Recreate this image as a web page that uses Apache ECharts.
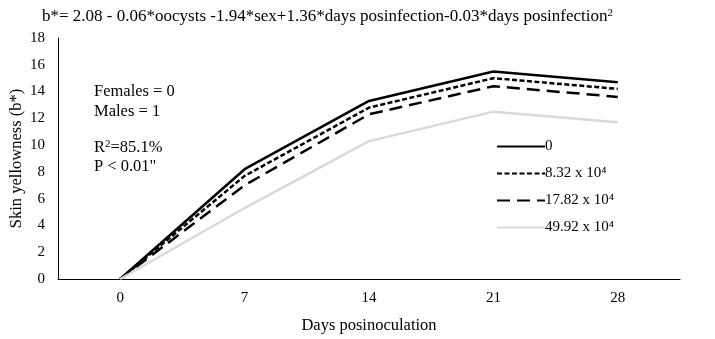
<!DOCTYPE html>
<html>
<head>
<meta charset="utf-8">
<script src="https://cdn.jsdelivr.net/npm/echarts@6/dist/echarts.min.js"></script>
<style>
  html, body { margin: 0; padding: 0; background: #fff; }
  #chart { width: 715px; height: 339px; }
</style>
</head>
<body>
<div id="chart"></div>
<script>
// days posinoculation
const days = ['0', '7', '14', '21', '28']
// oocyst doses (legend labels)
const doseNames = ['0', '8.32 x 10⁴', '17.82 x 10⁴', '49.92 x 10⁴']
// skin yellowness b*
const dose0 = [0, 8.2, 13.3, 15.5, 14.7]
const dose832 = [0, 7.7, 12.8, 15.0, 14.2]
const dose1782 = [0, 7.0, 12.3, 14.4, 13.6]
const dose4992 = [0, 5.3, 10.3, 12.5, 11.7]
const yTicks = [0, 2, 4, 6, 8, 10, 12, 14, 16, 18]

const font = 'Liberation Serif, Times New Roman, serif'
const chart = echarts.init(document.getElementById('chart'))

const mkLine = (name, data, color, type) => ({
  name,
  type: 'line',
  data,
  symbol: 'none',
  silent: true,
  lineStyle: { color, width: 2.5, type },
  itemStyle: { color }
})

const sup = { fontSize: 11, verticalAlign: 'top', padding: [0, 0, 7, 0], fontFamily: font }

chart.setOption({
  animation: false,
  textStyle: { fontFamily: font, color: '#000' },
  grid: { left: 58, right: 35, top: 38, bottom: 60, outerBoundsMode: 'none' },
  xAxis: {
    type: 'category',
    data: days,
    boundaryGap: true,
    axisLine: { lineStyle: { color: '#000', width: 1 } },
    axisTick: { show: false },
    axisLabel: { color: '#000', fontSize: 15, fontFamily: font, margin: 12 },
    name: 'Days posinoculation',
    nameLocation: 'middle',
    nameGap: 38,
    nameTextStyle: { color: '#000', fontSize: 16.5, fontFamily: font }
  },
  yAxis: {
    type: 'value',
    min: yTicks[0],
    max: yTicks[yTicks.length - 1],
    interval: 2,
    splitLine: { show: false },
    axisLine: { show: true, lineStyle: { color: '#000', width: 1 } },
    axisTick: { show: false },
    axisLabel: { color: '#000', fontSize: 15, fontFamily: font, margin: 13 },
    name: 'Skin yellowness (b*)',
    nameLocation: 'middle',
    nameGap: 33,
    nameMoveOverlap: false,
    nameRotate: 90,
    nameTextStyle: { color: '#000', fontSize: 16.5, fontFamily: font }
  },
  legend: {
    orient: 'vertical',
    left: 491,
    top: 134,
    itemWidth: 48,
    itemHeight: 12,
    itemGap: 12,
    selectedMode: false,
    data: doseNames,
    itemStyle: { opacity: 0 },
    textStyle: { color: '#000', fontSize: 15, fontFamily: font, padding: [0, 0, 0, -5] }
  },
  graphic: [
    {
      type: 'text', left: 42, top: 8,
      style: {
        text: 'b*= 2.08 - 0.06*oocysts -1.94*sex+1.36*days posinfection-0.03*days posinfection{s|2}',
        font: '17px ' + font,
        fill: '#000',
        rich: { s: sup }
      }
    },
    { type: 'text', left: 94, top: 83, style: { text: 'Females = 0', font: '16.5px ' + font, fill: '#000' } },
    { type: 'text', left: 94, top: 103, style: { text: 'Males = 1', font: '16.5px ' + font, fill: '#000' } },
    {
      type: 'text', left: 94, top: 139,
      style: {
        text: 'R{s|2}=85.1%',
        font: '16.5px ' + font,
        fill: '#000',
        rich: { s: sup }
      }
    },
    { type: 'text', left: 94, top: 158, style: { text: 'P < 0.01"', font: '16.5px ' + font, fill: '#000' } }
  ],
  series: [
    mkLine(doseNames[0], dose0, '#000', 'solid'),
    mkLine(doseNames[1], dose832, '#000', [5, 2.5]),
    mkLine(doseNames[2], dose1782, '#000', [13, 7]),
    mkLine(doseNames[3], dose4992, '#d9d9d9', 'solid')
  ]
})
</script>
</body>
</html>
